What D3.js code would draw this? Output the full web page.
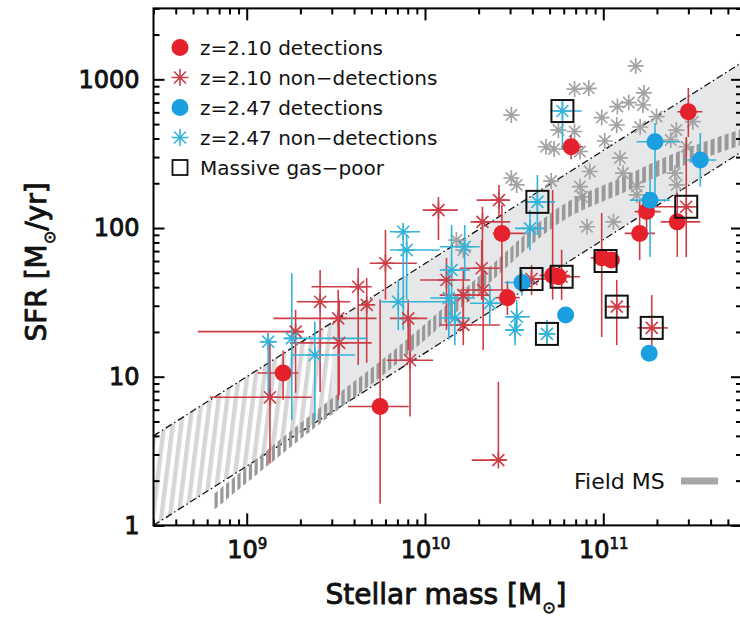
<!DOCTYPE html>
<html>
<head>
<meta charset="utf-8">
<script src="https://cdn.jsdelivr.net/npm/d3@7"></script>
<style>
  html, body { margin: 0; padding: 0; background: #fff; }
  svg { display: block; }
  text { font-family: "DejaVu Sans", "Liberation Sans", sans-serif; fill: #111; }
</style>
</head>
<body>
<svg id="chart" width="740" height="623"></svg>
<script>
// ---------------- data ----------------
// Stellar mass [Msun], SFR [Msun/yr]; error rows: [mass, sfr, massLo, massHi, sfrLo, sfrHi]

// field galaxies (grey asterisks, no error bars)
const fieldGalaxies = [
  [1.52e11, 1230], [6.9e10, 860], [8.3e10, 870], [3.05e10, 575], [9.8e10, 553],
  [1.2e11, 656], [1.39e11, 698], [1.69e11, 810], [1.67e11, 672], [1.19e11, 493],
  [1.61e11, 478], [1.99e11, 562], [2.57e11, 456], [1.02e11, 385], [7.4e10, 327],
  [6.9e10, 446], [1.24e11, 296], [8.4e10, 240], [2.93e11, 352], [1.29e11, 234],
  [1.54e11, 190], [2.52e11, 234], [7.4e10, 190], [7.6e10, 162], [2.58e11, 195],
  [3.18e11, 519], [4.77e10, 352], [5.3e10, 340], [3.05e10, 217], [5.1e10, 207],
  [5.6e10, 456], [3.27e10, 195], [1.14e11, 110], [8.1e10, 102], [1.54e11, 167],
  [1.5e10, 83], [1.64e10, 71], [2.39e11, 391]
];

// z=2.10 CO detections
const det210 = [
  [1.6e9, 10.6, 1.15e9, 1.95e9, 7.0, 15],
  [5.6e9, 6.3, 3.7e9, 8.1e9, 1.4, 33],
  [2.7e10, 92, 2.4e10, 3.7e10, 38, 143],
  [2.9e10, 34, 2.5e10, 3.4e10, 26, 44],
  [5.2e10, 48, 4.4e10, 6.5e10, 33, 180],
  [5.6e10, 47, null, null, null, null],
  [9.8e10, 63, 8.5e10, 1.13e11, 18.5, 126],
  [1.11e11, 61, null, null, null, null],
  [1.6e11, 92, 1.32e11, 1.95e11, 61, 154],
  [1.75e11, 129, 1.5e11, 2.1e11, 96, 175],
  [2.6e11, 110, 2.1e11, 3.5e11, 64, 172],
  [3.0e11, 606, 2.6e11, 3.6e11, 410, 875],
  [6.6e10, 352, 5.8e10, 7.7e10, 290, 420]
];

// z=2.47 CO detections
const det247 = [
  [3.5e10, 43, 2.8e10, 4.1e10, 35, 52],
  [6.15e10, 26, null, null, null, null],
  [1.81e11, 14.4, null, null, null, null],
  [1.83e11, 154, 1.41e11, 2.36e11, 64, 210],
  [1.95e11, 380, 1.54e11, 2.7e11, 154, 508],
  [3.5e11, 287, 2.9e11, 4.3e11, 190, 435]
];

// z=2.10 non-detections
const non210 = [
  [1.19e10, 132, 9.7e9, 1.53e10, 83, 162],
  [2.6e10, 154, 1.95e10, 3.0e10, 119, 195],
  [2.1e10, 110, 1.8e10, 3.0e10, 33, 139],
  [6.0e9, 58, 4.9e9, 9.0e9, 33, 97],
  [2.08e10, 53.6, 1.57e10, 2.63e10, 33, 83],
  [1.32e10, 44.7, 9.4e9, 1.79e10, 20.6, 63],
  [2.12e10, 38.3, 1.57e10, 3.0e10, 15.1, 56],
  [1.64e10, 35.4, 1.21e10, 2.31e10, 20.6, 52],
  [1.64e10, 22.3, 1.21e10, 2.63e10, 16.3, 35.4],
  [8.05e9, 24.7, 6.36e9, 1.03e10, 15.1, 32.9],
  [8.24e9, 12.9, 6.1e9, 1.11e10, 5.4, 24.1],
  [4.22e9, 40.3, 2.31e9, 5.02e9, 12.0, 53.8],
  [2.58e9, 31.9, 1.91e9, 3.8e9, 7.9, 52.3],
  [3.26e9, 24.7, 1.41e9, 5.35e9, 7.0, 38.4],
  [1.88e9, 20.1, 5.33e8, 2.07e9, 7.8, 28.2],
  [3.3e9, 16.9, 1.75e9, 5.02e9, 7.5, 32.9],
  [1.35e9, 7.27, 6.22e8, 2.31e9, 2.62, 17.7],
  [2.58e10, 2.75, 1.83e10, 2.87e10, 2.75, 9.25],
  [4.71e9, 30.4, null, null, 12.4, 46.1],
  [3.96e10, 45.4, 3.41e10, 4.71e10, 35.4, 56.4],
  [5.84e10, 47.0, 4.71e10, 7.4e10, 32.9, 71.3],
  [1.19e11, 29.6, 1.02e11, 1.41e11, 16.3, 44.8],
  [1.87e11, 21.3, 1.56e11, 2.3e11, 16.3, 35.4],
  [2.92e11, 139, 1.9e11, 3.4e11, 63.8, 409]
];

// z=2.47 non-detections
const non247 = [
  [1.32e9, 17.2, 1.19e9, 1.47e9, 7.0, 19.7],
  [1.79e9, 18.1, 1.64e9, 4.71e9, 5.1, 49.6],
  [2.41e9, 14.0, 1.79e9, 4.05e9, 5.1, 23.4],
  [7.55e9, 94.4, 6.36e9, 9.37e9, 20.6, 108],
  [7.89e9, 71.1, 6.36e9, 1.21e10, 32.9, 89.7],
  [7.08e9, 31.9, 5.59e9, 1.38e10, 20.6, 44.8],
  [1.41e10, 52.2, 1.21e10, 1.79e10, 24.1, 105],
  [1.67e10, 74.8, 1.21e10, 2.03e10, 44.8, 105],
  [2.31e10, 31.2, 1.79e10, 2.99e10, 22.3, 41.4],
  [3.27e10, 25.3, 2.81e10, 3.88e10, 20.6, 32.9],
  [3.2e10, 20.6, 2.81e10, 3.6e10, 16.3, 26.0],
  [3.88e10, 99.5, 3.2e10, 4.71e10, 71, 132],
  [1.36e10, 33.8, 1.07e10, 1.91e10, 17.7, 52.3],
  [1.47e10, 24.8, 1.21e10, 1.79e10, 16.3, 35.4],
  [4.83e10, 19.4, 4.41e10, 5.35e10, 16.3, 24.1],
  [4.27e10, 150, 3.63e10, 5.36e10, 89.7, 227],
  [5.9e10, 612, 5.02e10, 7.56e10, 335, 726]
];

// massive gas-poor galaxies (open squares)
const gasPoorMass = [3.96e10, 5.84e10, 1.19e11, 1.87e11, 2.92e11, 4.83e10, 4.27e10, 5.9e10, 1.03e11];
const gasPoorSFR  = [45.4, 47.0, 29.6, 21.3, 139, 19.4, 150, 612, 60];

// field main sequence (hatched grey curve)
const msMass = [6.6e8, 2.0e9, 7.6e9, 2.0e10, 5.9e10, 1.35e11, 2.1e11, 5.9e11];
const msSFR  = [1.45, 4.3, 15.1, 41.7, 126, 200, 257, 407];

// cluster main-sequence band (dash-dot edges)
const bandMass = [3e8, 6e11];
const bandLow  = [1.0, 327];
const bandHigh = [4.0, 1300];
const bandCompleteMass = 3e9;   // below this the band is hatched

// axes
const xDomain = [3e8, 6e11];
const yDomain = [1, 3000];
const xTickValues = [1e9, 1e10, 1e11];
const xTickExponents = ["9", "10", "11"];
const yTickValues = [1, 10, 100, 1000];
const yTickLabels = ["1", "10", "100", "1000"];

const legendLabels = ["z=2.10 detections", "z=2.10 non\u2212detections",
                      "z=2.47 detections", "z=2.47 non\u2212detections", "Massive gas\u2212poor"];

// ---------------- layout & styles ----------------
const plot = { left: 153.5, right: 742, top: 8.4, bottom: 525.4 };
const RED = "#e5222b", RED_LINE = "#cc3d46";
const BLUE = "#1a9fe0", BLUE_LINE = "#34b3da";
const GREY = "#a3a3a3";

const svg = d3.select("#chart");
const x = d3.scaleLog().domain(xDomain).range([plot.left, plot.right]);
const y = d3.scaleLog().domain(yDomain).range([plot.bottom, plot.top]);

const defs = svg.append("defs");
defs.append("clipPath").attr("id", "plotClip").append("rect")
  .attr("x", plot.left).attr("y", plot.top)
  .attr("width", plot.right - plot.left).attr("height", plot.bottom - plot.top);
defs.append("clipPath").attr("id", "solidClip").append("rect")
  .attr("x", x(bandCompleteMass)).attr("y", plot.top)
  .attr("width", plot.right - x(bandCompleteMass)).attr("height", plot.bottom - plot.top);
defs.append("clipPath").attr("id", "hatchClip").append("rect")
  .attr("x", plot.left).attr("y", plot.top)
  .attr("width", x(bandCompleteMass) - plot.left).attr("height", plot.bottom - plot.top);
const pat = defs.append("pattern").attr("id", "stripes")
  .attr("patternUnits", "userSpaceOnUse").attr("width", 8.5).attr("height", 8.5)
  .attr("patternTransform", "rotate(7)");
pat.append("rect").attr("width", 8.5).attr("height", 8.5).attr("fill", "#ffffff");
pat.append("rect").attr("width", 4.4).attr("height", 8.5).attr("fill", "#d6d6d6");

const asterisk = r => {
  const d = r * Math.SQRT1_2;
  return `M${-r},0L${r},0M0,${-r}L0,${r}M${-d},${-d}L${d},${d}M${-d},${d}L${d},${-d}`;
};

const g = svg.append("g").attr("clip-path", "url(#plotClip)");

// band polygon
const bandPts = [
  [bandMass[0], bandLow[0]], [bandMass[1], bandLow[1]],
  [bandMass[1], bandHigh[1]], [bandMass[0], bandHigh[0]]
];
const bandPath = d3.line().x(d => x(d[0])).y(d => y(d[1]))(bandPts) + "Z";
g.append("path").attr("d", bandPath).attr("fill", "#e6e7e9").attr("clip-path", "url(#solidClip)");
g.append("g").attr("clip-path", "url(#hatchClip)")
  .append("path").attr("d", bandPath).attr("fill", "url(#stripes)");

// dash-dot edges
[bandLow, bandHigh].forEach(edge => {
  g.append("path")
    .attr("d", d3.line().x(d => x(d[0])).y(d => y(d[1]))(bandMass.map((m, i) => [m, edge[i]])))
    .attr("fill", "none").attr("stroke", "#111").attr("stroke-width", 1.3)
    .attr("stroke-dasharray", "7 3 1.5 3");
});

// field galaxies
g.append("g").selectAll("path").data(fieldGalaxies).join("path")
  .attr("transform", d => `translate(${x(d[0])},${y(d[1])})`)
  .attr("d", asterisk(8)).attr("fill", "none").attr("stroke", GREY).attr("stroke-width", 1.7);

// field MS: thick dashed curve whose dashes are thickened vertically
const msPathD = d3.line().curve(d3.curveMonotoneX).x(d => x(d[0])).y(d => y(d[1]))(msMass.map((m, i) => [m, msSFR[i]]));
const guide = g.append("path").attr("d", msPathD).attr("fill", "none").attr("stroke", "none");
const guideNode = guide.node();
const total = guideNode.getTotalLength();
const dashLen = 4.2, period = 7.4, thick = 16;
const dashes = [];
for (let s = 0; s < total; s += period) {
  const a = guideNode.getPointAtLength(s);
  const b = guideNode.getPointAtLength(Math.min(s + dashLen, total));
  dashes.push([[a.x, a.y - thick / 2], [b.x, b.y - thick / 2], [b.x, b.y + thick / 2], [a.x, a.y + thick / 2]]);
}
g.append("g").selectAll("path").data(dashes).join("path")
  .attr("d", d => "M" + d.map(p => p.join(",")).join("L") + "Z")
  .attr("fill", "#999999");
guide.remove();

// error bars
function errorBars(data, color) {
  const eg = g.append("g").attr("stroke", color).attr("stroke-width", 1.6).attr("fill", "none");
  data.forEach(d => {
    const [m, s, mLo, mHi, sLo, sHi] = d;
    if (mLo != null) eg.append("line").attr("x1", x(mLo)).attr("x2", x(mHi)).attr("y1", y(s)).attr("y2", y(s));
    if (sLo != null) eg.append("line").attr("x1", x(m)).attr("x2", x(m)).attr("y1", y(sLo)).attr("y2", y(sHi));
  });
}
errorBars(non210, RED_LINE);
errorBars(det210, RED_LINE);
errorBars(non247, BLUE_LINE);
errorBars(det247, BLUE_LINE);

// asterisk markers
function asterisks(data, color) {
  g.append("g").selectAll("path").data(data).join("path")
    .attr("transform", d => `translate(${x(d[0])},${y(d[1])})`)
    .attr("d", asterisk(8.5)).attr("fill", "none").attr("stroke", color).attr("stroke-width", 1.6);
}
asterisks(non210, RED_LINE);
asterisks(non247, BLUE_LINE);

// filled circles
function circles(data, color) {
  g.append("g").selectAll("circle").data(data).join("circle")
    .attr("cx", d => x(d[0])).attr("cy", d => y(d[1])).attr("r", 8.5).attr("fill", color);
}
circles(det210, RED);
circles(det247, BLUE);

// gas-poor squares
g.append("g").selectAll("rect").data(gasPoorMass).join("rect")
  .attr("x", (d, i) => x(d) - 11).attr("y", (d, i) => y(gasPoorSFR[i]) - 11)
  .attr("width", 22).attr("height", 22)
  .attr("fill", "none").attr("stroke", "#111").attr("stroke-width", 2);

// ---------------- axes ----------------
const xMinor = x.ticks().filter(v => !xTickValues.includes(v));
const yMinor = y.ticks().filter(v => !yTickValues.includes(v));

function styleAxis(sel) {
  sel.select(".domain").remove();
  sel.selectAll(".tick line").attr("stroke", "#000").attr("stroke-width", 2);
}
// medium-weight label style (outlined regular face)
function labelStyle(sel, size) {
  sel.attr("font-size", size).attr("font-weight", "normal")
    .attr("font-family", "DejaVu Sans, sans-serif")
    .attr("fill", "#111").attr("stroke", "#111").attr("stroke-width", 0.9);
}

// bottom
svg.append("g").attr("transform", `translate(0,${plot.bottom})`)
  .call(d3.axisBottom(x).tickValues(xMinor).tickSizeInner(-6).tickSizeOuter(0).tickFormat(""))
  .call(styleAxis);
const xb = svg.append("g").attr("transform", `translate(0,${plot.bottom})`)
  .call(d3.axisBottom(x).tickValues(xTickValues).tickSizeInner(-12).tickSizeOuter(0).tickPadding(16)
        .tickFormat(() => ""))
  .call(styleAxis);
xb.selectAll(".tick text").each(function(d, i) {
  const t = d3.select(this).call(labelStyle, 24);
  t.append("tspan").text("10");
  t.append("tspan").attr("font-size", 15).attr("stroke-width", 0.7).attr("dy", "-9").text(xTickExponents[i]);
});

// top
svg.append("g").attr("transform", `translate(0,${plot.top})`)
  .call(d3.axisTop(x).tickValues(xMinor).tickSizeInner(-6).tickSizeOuter(0).tickFormat(""))
  .call(styleAxis);
svg.append("g").attr("transform", `translate(0,${plot.top})`)
  .call(d3.axisTop(x).tickValues(xTickValues).tickSizeInner(-12).tickSizeOuter(0).tickFormat(""))
  .call(styleAxis);

// left
svg.append("g").attr("transform", `translate(${plot.left},0)`)
  .call(d3.axisLeft(y).tickValues(yMinor).tickSizeInner(-6).tickSizeOuter(0).tickFormat(""))
  .call(styleAxis);
const yl = svg.append("g").attr("transform", `translate(${plot.left},0)`)
  .call(d3.axisLeft(y).tickValues(yTickValues).tickSizeInner(-11).tickSizeOuter(0).tickPadding(14)
        .tickFormat((d, i) => yTickLabels[i]))
  .call(styleAxis);
yl.selectAll(".tick text").call(labelStyle, 24);

// right
svg.append("g").attr("transform", `translate(${plot.right},0)`)
  .call(d3.axisRight(y).tickValues(yMinor).tickSizeInner(-6).tickSizeOuter(0).tickFormat(""))
  .call(styleAxis);
svg.append("g").attr("transform", `translate(${plot.right},0)`)
  .call(d3.axisRight(y).tickValues(yTickValues).tickSizeInner(-11).tickSizeOuter(0).tickFormat(""))
  .call(styleAxis);

// frame
svg.append("rect").attr("x", plot.left).attr("y", plot.top)
  .attr("width", plot.right - plot.left).attr("height", plot.bottom - plot.top)
  .attr("fill", "none").attr("stroke", "#000").attr("stroke-width", 2);

// axis titles
const xt = svg.append("text").attr("x", 446).attr("y", 604).attr("text-anchor", "middle")
  .call(labelStyle, 28);
xt.append("tspan").text("Stellar mass [M");
xt.append("tspan").attr("font-size", 16).attr("stroke-width", 0.7).attr("dy", 9).text("\u2299");
xt.append("tspan").attr("dy", -9).text("]");

const yt = svg.append("text").attr("transform", "translate(46,262) rotate(-90)")
  .attr("text-anchor", "middle").call(labelStyle, 28);
yt.append("tspan").text("SFR [M");
yt.append("tspan").attr("font-size", 16).attr("stroke-width", 0.7).attr("dy", 9).text("\u2299");
yt.append("tspan").attr("dy", -9).text("/yr]");

// ---------------- legend ----------------
const legRows = [47.5, 77.5, 107.5, 137.5, 167.5];
const leg = svg.append("g");
leg.append("circle").attr("cx", 180).attr("cy", legRows[0]).attr("r", 8.5).attr("fill", RED);
leg.append("path").attr("transform", `translate(180,${legRows[1]})`).attr("d", asterisk(8.5))
  .attr("fill", "none").attr("stroke", RED_LINE).attr("stroke-width", 1.6);
leg.append("circle").attr("cx", 180).attr("cy", legRows[2]).attr("r", 8.5).attr("fill", BLUE);
leg.append("path").attr("transform", `translate(180,${legRows[3]})`).attr("d", asterisk(8.5))
  .attr("fill", "none").attr("stroke", BLUE_LINE).attr("stroke-width", 1.6);
leg.append("rect").attr("x", 172.5).attr("y", legRows[4] - 7.5).attr("width", 15).attr("height", 15)
  .attr("fill", "none").attr("stroke", "#111").attr("stroke-width", 1.8);
leg.selectAll("text").data(legendLabels).join("text")
  .attr("x", 200).attr("y", (d, i) => legRows[i] + 7.5)
  .attr("font-size", 20).text(d => d);

// field MS key
svg.append("text").attr("x", 574).attr("y", 489).attr("font-size", 22).text("Field MS");
svg.append("line").attr("x1", 681).attr("x2", 718).attr("y1", 481).attr("y2", 481)
  .attr("stroke", "#a6a6a6").attr("stroke-width", 7);
</script>
</body>
</html>
